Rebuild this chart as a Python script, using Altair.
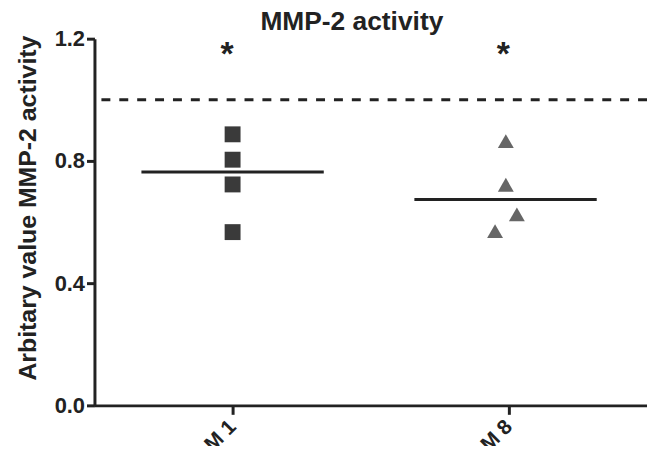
import altair as alt
import pandas as pd
import numpy as np

# ---- data ----
groups = ["M 1", "M 8"]
group_pos = [0.5, 1.5]
m1_values = [0.887, 0.804, 0.723, 0.567]
m8_values = [0.865, 0.722, 0.625, 0.570]
m1_jitter = [0.0, 0.0, 0.0, 0.0]
m8_jitter = [-0.011, -0.011, 0.029, -0.050]
median_center = [0.5, 1.488]
median_half = 0.33
reference_level = [1.0]
star_text = ["*", "*"]
star_x = [0.48, 1.48]
star_y = [1.145, 1.145]
y_ticks = [0.0, 0.4, 0.8, 1.2]

FONT = "Liberation Sans"
INK = "#222222"

pts = pd.DataFrame({
    "group": [groups[0]] * len(m1_values) + [groups[1]] * len(m8_values),
    "value": m1_values + m8_values,
    "x": [group_pos[0] + j for j in m1_jitter] + [group_pos[1] + j for j in m8_jitter],
})

med = pd.DataFrame({
    "group": groups,
    "x0": [c - median_half for c in median_center],
    "x1": [c + median_half for c in median_center],
    "value": [float(np.median(m1_values)), float(np.median(m8_values))],
})

ref = pd.DataFrame({"value": reference_level})
stars = pd.DataFrame({"t": star_text, "x": star_x, "y": star_y})

xscale = alt.Scale(domain=[0, 2], nice=False, zero=False)
yscale = alt.Scale(domain=[0, 1.2], nice=False)

xaxis = alt.Axis(
    values=group_pos, title=None, grid=False,
    labelExpr="datum.value < 1 ? 'M 1' : 'M 8'",
    labelAngle=-45, labelAlign="right", labelBaseline="middle",
    labelFont=FONT, labelFontSize=21, labelFontWeight="bold", labelColor=INK,
    labelPadding=9, tickSize=9, tickWidth=3, tickColor=INK,
    domainWidth=3, domainColor=INK,
)
yaxis = alt.Axis(
    values=y_ticks, format=".1f", grid=False,
    title="Arbitary value  MMP-2 activity",
    titleFont=FONT, titleFontSize=25, titleFontWeight="bold", titleColor=INK,
    titleX=-54, titleY=170,
    labelFont=FONT, labelFontSize=22, labelFontWeight="bold", labelColor=INK,
    labelPadding=2, tickSize=8, tickWidth=3, tickColor=INK,
    domainWidth=3, domainColor=INK,
)

base_x = alt.X("x:Q", scale=xscale, axis=xaxis)

ref_rule = alt.Chart(ref).mark_rule(strokeDash=[9, 9], strokeWidth=3, color=INK).encode(
    y=alt.Y("value:Q", scale=yscale, axis=yaxis)
)

med_rule = alt.Chart(med).mark_rule(strokeWidth=3, color=INK).encode(
    x=alt.X("x0:Q", scale=xscale, axis=xaxis),
    x2="x1:Q",
    y=alt.Y("value:Q", scale=yscale, axis=yaxis),
)

points = alt.Chart(pts).mark_point(filled=True, size=256, opacity=1).encode(
    x=base_x,
    y=alt.Y("value:Q", scale=yscale, axis=yaxis),
    shape=alt.Shape("group:N", scale=alt.Scale(domain=groups, range=["square", "triangle-up"]), legend=None),
    color=alt.Color("group:N", scale=alt.Scale(domain=groups, range=["#3a3a3a", "#666666"]), legend=None),
)

star_marks = alt.Chart(stars).mark_text(
    font=FONT, fontSize=34, fontWeight="bold", color=INK, baseline="middle", align="center"
).encode(
    x=base_x,
    y=alt.Y("y:Q", scale=yscale, axis=yaxis),
    text="t:N",
)

chart = alt.layer(ref_rule, med_rule, points, star_marks).properties(
    width=556, height=369,
    title=alt.TitleParams(
        "MMP-2 activity", font=FONT, fontSize=26.5, fontWeight="bold", color=INK,
        anchor="middle", dx=-19, dy=14, offset=6,
    ),
    autosize=alt.AutoSizeParams(type="none"),
    padding={"left": 87, "top": 29.5, "right": 0, "bottom": 39},
).configure_view(stroke=None)

chart.save("out.html", embed_options={"renderer": "svg", "actions": False})
